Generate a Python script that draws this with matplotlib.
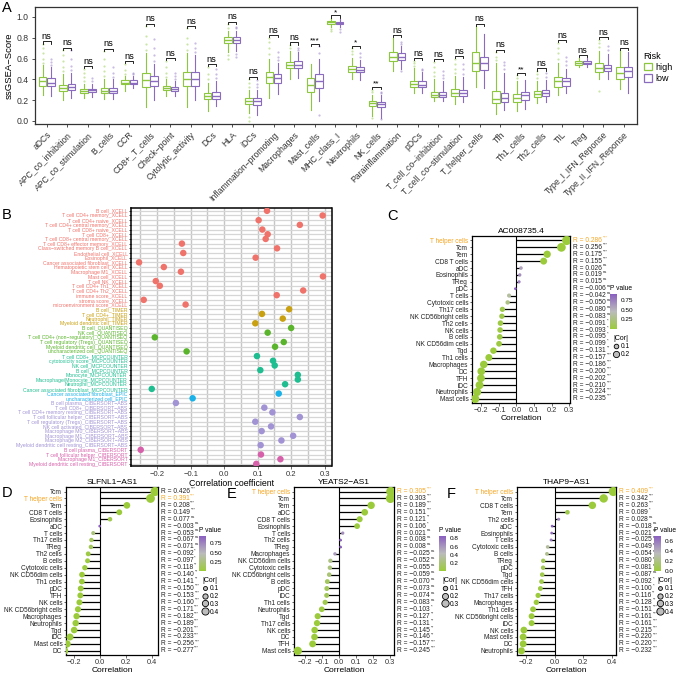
import numpy as np
import matplotlib
matplotlib.use("Agg")
import matplotlib.pyplot as plt
from matplotlib.colors import LinearSegmentedColormap, Normalize
from matplotlib.cm import ScalarMappable
from matplotlib.lines import Line2D
from matplotlib.patches import Patch

plt.rcParams['font.family'] = ['Liberation Sans', 'DejaVu Sans']

# ---------------- panel A data (ssGSEA boxplots) ----------------
a_cats = ['aDCs', 'APC_co_inhibition', 'APC_co_stimulation', 'B_cells', 'CCR', 'CD8+_T_cells',
          'Check\u2212point', 'Cytolytic_activity', 'DCs', 'HLA', 'iDCs', 'Inflammation\u2212promoting',
          'Macrophages', 'Mast_cells', 'MHC_class_I', 'Neutrophils', 'NK_cells', 'Parainflammation',
          'pDCs', 'T_cell_co\u2212inhibition', 'T_cell_co\u2212stimulation', 'T_helper_cells', 'Tfh',
          'Th1_cells', 'Th2_cells', 'TIL', 'Treg', 'Type_I_IFN_Reponse', 'Type_II_IFN_Reponse']
a_sig = ['ns', 'ns', 'ns', 'ns', 'ns', 'ns', 'ns', 'ns', 'ns', 'ns', 'ns', 'ns', 'ns', '***', '*',
         '*', '**', 'ns', 'ns', 'ns', 'ns', 'ns', 'ns', '**', 'ns', 'ns', 'ns', 'ns', 'ns']

high_med = [.38, .32, .29, .29, .37, .39, .32, .40, .24, .78, .19, .42, .54, .35, .95, .50, .17, .62, .36, .25, .27, .56, .21, .22, .26, .38, .56, .51, .46]
high_q1 = [.34, .29, .27, .27, .36, .33, .30, .34, .21, .75, .16, .37, .51, .28, .935, .47, .14, .58, .33, .23, .24, .48, .17, .18, .23, .33, .54, .47, .40]
high_q3 = [.42, .35, .31, .32, .39, .46, .34, .47, .27, .81, .22, .47, .57, .41, .96, .53, .195, .66, .38, .28, .31, .66, .29, .26, .285, .42, .58, .56, .52]
high_lo = [.25, .20, .22, .21, .29, .13, .24, .13, .10, .66, .08, .22, .40, .11, .90, .40, .045, .48, .27, .19, .16, .33, .07, .10, .17, .25, .52, .40, .31]
high_hi = [.54, .45, .36, .40, .43, .65, .40, .65, .37, .87, .30, .60, .67, .55, .99, .61, .25, .80, .51, .40, .43, .91, .56, .38, .38, .56, .61, .67, .68]
high_fl = [[.56, .60, .65, .70, .74], [.48, .52, .58, .63, .68], [.38, .42, .46, .50], [.43, .48, .53, .60, .67],
           [.45, .49, .55], [.68, .74, .82, .91], [.42, .46, .52, .58], [.68, .74, .80, .89], [.40, .45, .52],
           [.60, .63, .89, .93], [.0, .04, .33, .37, .40], [.64, .70, .76, .80], [.70, .73], [],
           [.87, .88], [.64, .67, .70], [.03, .28, .30], [], [.53, .56, .58], [.43, .47, .52, .57],
           [.46, .50, .55, .60], [], [.59, .62, .66], [.41, .44], [.41, .45, .48], [.60, .65, .70, .75],
           [], [.29, .71, .75, .78], []]

low_med = [.37, .33, .30, .29, .37, .38, .31, .40, .24, .78, .19, .41, .54, .38, .945, .49, .16, .62, .35, .25, .27, .56, .22, .25, .27, .38, .56, .51, .48]
low_q1 = [.34, .30, .28, .27, .36, .34, .29, .34, .21, .75, .15, .37, .51, .32, .935, .47, .13, .59, .33, .23, .24, .49, .18, .20, .24, .34, .55, .48, .42]
low_q3 = [.41, .36, .31, .32, .39, .43, .33, .47, .28, .81, .22, .45, .58, .45, .955, .52, .18, .65, .38, .28, .30, .62, .27, .28, .30, .41, .58, .54, .52]
low_lo = [.24, .22, .23, .21, .32, .20, .24, .20, .14, .67, .06, .26, .41, .19, .90, .39, .03, .50, .27, .19, .18, .32, .11, .12, .18, .27, .52, .40, .27]
low_hi = [.52, .46, .36, .40, .43, .55, .38, .63, .38, .87, .30, .56, .66, .60, .98, .59, .25, .72, .47, .38, .42, .84, .46, .39, .39, .50, .61, .64, .66]
low_fl = [[.54, .57, .60], [.49, .53, .60, .68], [.38, .41], [.42, .46, .52], [.45, .46], [.58, .63, .70, .79],
          [.40, .43, .46], [.66, .70, .75], [.41, .45, .50], [.62, .64, .89, .90], [.33, .36, .39],
          [.59, .62, .66], [.68, .70], [.06, .65, .72], [.86, .88], [.62, .65], [.02, .27, .28],
          [.48, .74, .76], [.49, .50], [.41, .44, .48], [.45, .50, .55], [], [.50, .54, .57], [],
          [.42, .46], [.54, .58, .62], [], [.68, .72], []]

# ---------------- panel B data (multi-method correlation) ----------------
b_cells = ['B cell', 'T cell CD4+ memory', 'T cell CD4+ naive', 'T cell CD4+ central memory',
           'T cell CD8+ naive', 'T cell CD8+', 'T cell CD8+ central memory', 'T cell CD8+ effector memory',
           'Class\u2212switched memory B cell', 'Endothelial cell', 'Eosinophil', 'Cancer associated fibroblast',
           'Hematopoietic stem cell', 'Macrophage M1', 'Mast cell', 'T cell NK', 'T cell CD4+ Th1',
           'T cell CD4+ Th2', 'immune score', 'stroma score', 'microenvironment score',
           'B cell', 'T cell CD4+', 'Neutrophil', 'Myeloid dendritic cell',
           'B cell', 'NK cell', 'T cell CD4+ (non\u2212regulatory)', 'T cell regulatory (Tregs)',
           'Myeloid dendritic cell', 'uncharacterized cell',
           'T cell CD8+', 'cytotoxicity score', 'NK cell', 'B cell', 'Monocyte', 'Macrophage/Monocyte',
           'Neutrophil', 'Cancer associated fibroblast',
           'Cancer associated fibroblast', 'uncharacterized cell',
           'B cell plasma', 'T cell CD8+', 'T cell CD4+ memory resting', 'T cell follicular helper',
           'T cell regulatory (Tregs)', 'NK cell activated', 'Macrophage M0', 'Macrophage M1',
           'Macrophage M2', 'Myeloid dendritic cell resting',
           'B cell plasma', 'T cell follicular helper', 'Macrophage M1', 'Myeloid dendritic cell resting']
b_method = ['XCELL'] * 21 + ['TIMER'] * 4 + ['QUANTISEQ'] * 6 + ['MCPCOUNTER'] * 8 + ['EPIC'] * 2 + \
           ['CIBERSORT\u2212ABS'] * 10 + ['CIBERSORT'] * 4
b_cor = [0.128, 0.294, 0.103, 0.226, 0.114, 0.130, 0.124, -0.126, 0.158, -0.122, 0.094, -0.254,
         -0.180, -0.129, 0.295, -0.204, -0.192, 0.236, 0.157, -0.240, -0.115,
         0.194, 0.113, 0.175, 0.093,
         0.200, 0.130, -0.207, 0.178, 0.152, -0.112,
         0.098, 0.146, 0.151, 0.108, 0.220, 0.220, 0.182, -0.216,
         0.163, -0.094,
         -0.144, 0.120, 0.144, 0.226, 0.093, 0.140, 0.112, 0.206, 0.171, 0.109,
         -0.249, 0.110, 0.168, 0.096]
method_col = {'XCELL': '#F0736B', 'TIMER': '#C8A010', 'QUANTISEQ': '#5BB52C', 'MCPCOUNTER': '#1FBE90',
              'EPIC': '#1AB1E8', 'CIBERSORT\u2212ABS': '#A293D4', 'CIBERSORT': '#D760AA'}

# ---------------- panels C-F data (lollipops) ----------------
c_cells = ['T helper cells', 'Tcm', 'Tem', 'CD8 T cells', 'aDC', 'Eosinophils', 'TReg', 'pDC', 'T cells',
           'Cytotoxic cells', 'Th17 cells', 'NK CD56bright cells', 'Th2 cells', 'NK cells', 'B cells',
           'NK CD56dim cells', 'Tgd', 'Th1 cells', 'Macrophages', 'DC', 'TFH', 'iDC', 'Neutrophils', 'Mast cells']
c_r = [0.286, 0.256, 0.175, 0.155, 0.026, 0.019, 0.015, -0.006, -0.042, -0.050, -0.080, -0.083, -0.091,
       -0.093, -0.095, -0.099, -0.131, -0.157, -0.186, -0.200, -0.202, -0.210, -0.224, -0.235]
c_sig = ['***', '***', '***', '***', 'ns', 'ns', 'ns', 'ns', 'ns', 'ns', 'ns', 'ns', '*', '*', '*', '*',
         '**', '***', '***', '***', '***', '***', '***', '***']
c_p = [0, 0, 0, 0.0005, 0.56, 0.67, 0.74, 0.89, 0.35, 0.26, 0.07, 0.06, 0.04, 0.037, 0.033, 0.027,
       0.003, 0, 0, 0, 0, 0, 0, 0]

d_cells = ['Tcm', 'T helper cells', 'Tem', 'CD8 T cells', 'Eosinophils', 'aDC', 'T cells', 'Th17 cells',
           'TReg', 'Th2 cells', 'B cells', 'Cytotoxic cells', 'NK CD56dim cells', 'Th1 cells', 'pDC', 'TFH',
           'NK cells', 'NK CD56bright cells', 'Macrophages', 'Neutrophils', 'Tgd', 'iDC', 'Mast cells', 'DC']
d_r = [0.426, 0.391, 0.208, 0.149, 0.077, -0.003, -0.053, -0.067, -0.071, -0.092, -0.097, -0.118,
       -0.140, -0.141, -0.150, -0.153, -0.160, -0.171, -0.182, -0.189, -0.201, -0.233, -0.256, -0.277]
d_sig = ['***', '***', '***', '***', 'ns', 'ns', 'ns', 'ns', 'ns', '*', '*', '**', '**', '**', '***', '***',
         '***', '***', '***', '***', '***', '***', '***', '***']
d_p = [0, 0, 0, 0.0008, 0.085, 0.95, 0.24, 0.13, 0.11, 0.04, 0.03, 0.008, 0.002, 0.002, 0.0008, 0.0006,
       0.0003, 0, 0, 0, 0, 0, 0, 0]

e_cells = ['T helper cells', 'Tcm', 'Tem', 'aDC', 'CD8 T cells', 'Eosinophils', 'T cells', 'Th2 cells', 'TReg',
           'Macrophages', 'NK CD56dim cells', 'Cytotoxic cells', 'NK CD56bright cells', 'B cells', 'pDC', 'iDC',
           'Th1 cells', 'Neutrophils', 'Tgd', 'Th17 cells', 'NK cells', 'DC', 'TFH', 'Mast cells']
e_r = [0.305, 0.303, 0.189, 0.151, 0.121, 0.106, 0.021, 0.008, 0.008, -0.025, -0.052, -0.055, -0.059,
       -0.070, -0.073, -0.074, -0.083, -0.103, -0.127, -0.131, -0.145, -0.146, -0.157, -0.245]
e_sig = ['***', '***', '***', '***', '**', '*', 'ns', 'ns', 'ns', 'ns', 'ns', 'ns', 'ns', 'ns', 'ns', 'ns',
         'ns', '*', '**', '**', '**', '**', '***', '***']
e_p = [0, 0, 0, 0.0007, 0.007, 0.018, 0.64, 0.86, 0.86, 0.58, 0.25, 0.22, 0.19, 0.12, 0.10, 0.10, 0.06,
       0.02, 0.004, 0.003, 0.001, 0.001, 0.0005, 0]

f_cells = ['T helper cells', 'Tcm', 'CD8 T cells', 'Tem', 'Th2 cells', 'aDC', 'Eosinophils', 'T cells',
           'Cytotoxic cells', 'B cells', 'TReg', 'pDC', 'Tgd', 'NK CD56dim cells', 'TFH', 'Th17 cells',
           'Macrophages', 'Th1 cells', 'NK CD56bright cells', 'iDC', 'NK cells', 'Mast cells', 'DC', 'Neutrophils']
f_r = [0.409, 0.342, 0.263, 0.089, 0.028, -0.018, -0.021, -0.025, -0.049, -0.054, -0.080, -0.081, -0.087,
       -0.092, -0.100, -0.116, -0.128, -0.151, -0.161, -0.161, -0.215, -0.220, -0.220, -0.232]
f_sig = ['***', '***', '***', '*', 'ns', 'ns', 'ns', 'ns', 'ns', 'ns', 'ns', 'ns', 'ns', '*', '*', '**', '**',
         '***', '***', '***', '***', '***', '***', '***']
f_p = [0, 0, 0, 0.045, 0.53, 0.69, 0.64, 0.58, 0.27, 0.23, 0.07, 0.07, 0.052, 0.04, 0.025, 0.009, 0.004,
       0.0007, 0.0003, 0.0003, 0, 0, 0, 0]

GREEN = '#8DC63F'
PURPLE = '#8A6BBE'
ORANGE = '#F5A623'
W, H = 676, 673

fig = plt.figure(figsize=(6.76, 6.73), dpi=100)


def rect(l, t, r, b):
    return [l / W, 1 - b / H, (r - l) / W, (b - t) / H]


# ======================= A =======================
axA = fig.add_axes(rect(35, 7, 637, 124))
pos = np.arange(len(a_cats))
for med, q1, q3, lo, hi, fl, off, col in [
        (high_med, high_q1, high_q3, high_lo, high_hi, high_fl, -0.2, GREEN),
        (low_med, low_q1, low_q3, low_lo, low_hi, low_fl, 0.2, PURPLE)]:
    stats = [dict(med=med[i], q1=q1[i], q3=q3[i], whislo=lo[i], whishi=hi[i], fliers=fl[i])
             for i in range(len(a_cats))]
    axA.bxp(stats, positions=pos + off, widths=0.37, showcaps=False, patch_artist=True,
            boxprops=dict(facecolor='white', edgecolor=col, lw=0.8),
            medianprops=dict(color=col, lw=1.0),
            whiskerprops=dict(color=col, lw=0.8),
            flierprops=dict(marker='o', markersize=1.6, markerfacecolor=col, markeredgecolor='none', alpha=0.45))

for i in range(len(a_cats)):
    top = max([high_hi[i], low_hi[i]] + high_fl[i] + low_fl[i]) + 0.025
    axA.plot([i - 0.2, i - 0.2, i + 0.2, i + 0.2], [top - 0.02, top, top, top - 0.02], color='black', lw=0.6)
    axA.text(i, top - (0.005 if a_sig[i] != 'ns' else -0.003), a_sig[i], ha='center', va='bottom',
             fontsize=6.6 if a_sig[i] == 'ns' else 6)

axA.set_xlim(-0.57, 28.63)
axA.set_ylim(-0.029, 1.096)
axA.set_yticks(np.arange(0, 1.01, 0.2))
axA.set_yticklabels(['0.0', '0.2', '0.4', '0.6', '0.8', '1.0'])
axA.set_xticks(pos)
axA.set_xticklabels(a_cats, rotation=45, ha='right', rotation_mode='anchor')
axA.tick_params(labelsize=6.2, length=2.5, width=0.6, colors='#333333', pad=2)
axA.set_ylabel('ssGSEA\u2212Score', fontsize=6.8, labelpad=2)
for s in axA.spines.values():
    s.set_linewidth(0.9)
    s.set_color('#333333')
legA = axA.legend(handles=[Patch(facecolor='white', edgecolor=GREEN, lw=0.9, label='high'),
                           Patch(facecolor='white', edgecolor=PURPLE, lw=0.9, label='low')],
                  title='Risk', loc='upper left', bbox_to_anchor=(639 / W, 1 - 47 / H),
                  bbox_transform=fig.transFigure, frameon=False, fontsize=6.5, title_fontsize=6.5,
                  handlelength=0.9, handleheight=0.9, handletextpad=0.4, labelspacing=0.25, borderpad=0)
legA._legend_box.align = 'left'

# ======================= B =======================
axB = fig.add_axes(rect(131, 208, 332, 466))
yb = np.arange(len(b_cells))
b_cols = [method_col[m] for m in b_method]
axB.scatter(b_cor, yb, s=22, c=b_cols, zorder=3, edgecolors='none')
axB.set_ylim(54.45, -0.6)
axB.set_xlim(-0.278, 0.322)
axB.set_yticks(yb)
axB.set_yticklabels([c + '_' + m for c, m in zip(b_cells, b_method)])
for lbl, col in zip(axB.get_yticklabels(), b_cols):
    lbl.set_color(col)
axB.set_xticks([-0.2, -0.1, 0.0, 0.1, 0.2, 0.3])
axB.set_xticklabels(['\u22120.2', '\u22120.1', '0.0', '0.1', '0.2', '0.3'])
axB.set_xticks(np.arange(-0.25, 0.31, 0.05), minor=True)
axB.grid(True, which='both', axis='x', color='#C6C6C6', lw=1.0)
axB.grid(True, which='major', axis='y', color='#D6D6D6', lw=0.9)
axB.set_axisbelow(True)
axB.tick_params(axis='y', labelsize=3.7, length=1.5, width=0.5, pad=1)
axB.tick_params(axis='x', labelsize=5.5, length=2, width=0.5, colors='#333333', pad=1.5)
axB.tick_params(axis='x', which='minor', length=0)
axB.set_xlabel('Correlation coefficient', fontsize=6.3, labelpad=0.5)
for s in axB.spines.values():
    s.set_linestyle((0, (2.0, 1.0)))
    s.set_linewidth(1.1)

# ======================= C-F =======================
pcmap = LinearSegmentedColormap.from_list('pv', ['#9BCB3B', '#BBBBBB', '#8A5FC0'])


def lolli(box, title, cells, rs, sigs, pvals, xlim, xticks, xticklabels, vmax, cbticks, cbfmt, legx, legy,
          size_vals):
    ax = fig.add_axes(rect(*box))
    n = len(cells)
    y = np.arange(n)
    absr = np.abs(rs)
    rmin, rmax = absr.min(), absr.max()

    def diam(v):
        # area grows linearly with |Cor|, diameter in points
        frac = (np.asarray(v) - rmin) / (rmax - rmin)
        return np.sqrt(2.7 ** 2 + (9.2 ** 2 - 2.7 ** 2) * frac) * 0.72

    norm = Normalize(0, vmax)
    ax.axvline(0, color='black', lw=0.8, zorder=1)
    ax.hlines(y, 0, rs, color='black', lw=0.9, zorder=1)
    ax.scatter(rs, y, s=diam(absr) ** 2, c=pvals, cmap=pcmap, norm=norm, edgecolors='none', zorder=3)
    ax.set_ylim(n - 0.4, -0.65)
    ax.set_xlim(*xlim)
    ax.set_yticks(y)
    ax.set_yticklabels(cells)
    ax.set_xticks(xticks)
    ax.set_xticklabels(xticklabels)
    ax.tick_params(axis='y', labelsize=4.7, length=1.5, width=0.5, pad=1.2, colors='#222222')
    ax.tick_params(axis='x', labelsize=5.3, length=2, width=0.5, pad=1.2, colors='#333333')
    for lbl in ax.get_yticklabels():
        if lbl.get_text() == 'T helper cells':
            lbl.set_color(ORANGE)
    ax.set_xlabel('Correlation', fontsize=6.0, labelpad=0.5)
    ax.set_title(title, fontsize=6.0, pad=2)
    for s in ax.spines.values():
        s.set_linewidth(0.9)
    for yi, r, sg, cell in zip(y, rs, sigs, cells):
        col = ORANGE if cell == 'T helper cells' else '#222222'
        txt = ('R = %.3f' % r).replace('-', '\u2212')
        t = ax.text(1.03, yi, txt, transform=ax.get_yaxis_transform(), fontsize=4.8, va='center',
                    ha='left', color=col, clip_on=False)
        ax.annotate(sg, xy=(1.03, 0.6), xycoords=t, fontsize=3.0, ha='left', va='bottom', color=col)
    # colour bar for p value
    cax = fig.add_axes(rect(legx, legy + 6, legx + 7, legy + 41))
    cb = fig.colorbar(ScalarMappable(norm=norm, cmap=pcmap), cax=cax)
    cb.outline.set_visible(False)
    cb.set_ticks(cbticks)
    cb.set_ticklabels([cbfmt % t for t in cbticks])
    cax.tick_params(labelsize=4.6, length=1.5, width=0.5, color='white', pad=1.5)
    fig.text(legx / W, 1 - legy / H, 'P value', fontsize=4.8, ha='left', va='center')
    handles = [Line2D([], [], marker='o', ls='', markersize=float(diam(v)) * 0.8, markerfacecolor='#BDBDBD',
                      markeredgecolor='black', markeredgewidth=0.6, label='%.1f' % v) for v in size_vals]
    lg = ax.legend(handles=handles, title='|Cor|', loc='upper left', bbox_to_anchor=(legx / W, 1 - (legy + 44) / H),
                   bbox_transform=fig.transFigure, frameon=False, fontsize=4.8, title_fontsize=5.0,
                   handlelength=0.8, handletextpad=0.35, labelspacing=0.12, borderpad=0)
    lg._legend_box.align = 'left'
    return ax


lolli((472, 236, 570, 403), 'AC008735.4', c_cells, np.array(c_r), c_sig, c_p, (-0.253, 0.305),
      [-0.2, -0.1, 0.0, 0.1, 0.2, 0.3], ['\u22120.2', '\u22120.1', '0.0', '0.1', '0.2', '0.3'],
      0.9, [0.25, 0.50, 0.75], '%.2f', 610, 288, [0.1, 0.2])
lolli((66, 487, 158, 655), 'SLFNL1\u2212AS1', d_cells, np.array(d_r), d_sig, d_p, (-0.264, 0.449),
      [-0.2, 0.0, 0.2, 0.4], ['\u22120.2', '0.0', '0.2', '0.4'],
      0.95, [0.25, 0.50, 0.75], '%.2f', 199, 530, [0.1, 0.2, 0.3, 0.4])
lolli((294, 487, 394, 655), 'YEATS2\u2212AS1', e_cells, np.array(e_r), e_sig, e_p, (-0.267, 0.324),
      [-0.2, -0.1, 0.0, 0.1, 0.2, 0.3], ['\u22120.2', '\u22120.1', '0.0', '0.1', '0.2', '0.3'],
      0.86, [0.2, 0.4, 0.6, 0.8], '%.1f', 439, 530, [0.1, 0.2, 0.3])
lolli((517, 487, 616, 655), 'THAP9\u2212AS1', f_cells, np.array(f_r), f_sig, f_p, (-0.263, 0.428),
      [-0.2, 0.0, 0.2, 0.4], ['\u22120.2', '0.0', '0.2', '0.4'],
      0.69, [0.0, 0.2, 0.4, 0.6], '%.1f', 654, 530, [0.1, 0.2, 0.3, 0.4])

# panel letters
for letter, x, y in [('A', 7, 8), ('B', 7, 215), ('C', 392, 216), ('D', 7, 493), ('E', 232, 494), ('F', 451, 494)]:
    fig.text(x / W, 1 - y / H, letter, fontsize=10.5, ha='center', va='center')

fig.savefig('out.png', dpi=100)
